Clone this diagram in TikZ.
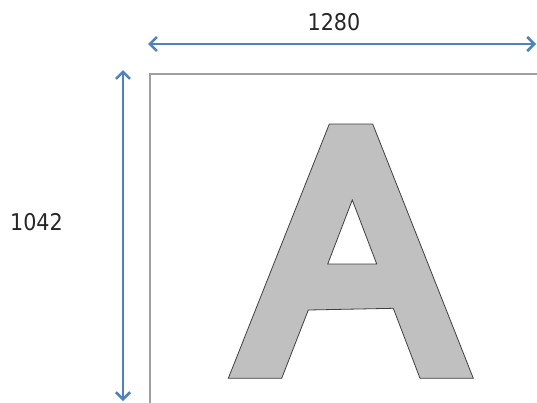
\documentclass[tikz,border=0pt]{standalone}
\usepackage{fontspec}
\setmainfont{DejaVu Sans Condensed}
\usetikzlibrary{arrows.meta}
\definecolor{dimblue}{HTML}{4F81BD}
\definecolor{lettergray}{HTML}{C0C0C0}
\definecolor{framegray}{HTML}{A0A0A0}
\tikzset{
  dimarrow/.style={draw=dimblue, line width=2.8pt, {Straight Barb[length=7pt,width=14pt,line width=2.6pt]}-{Straight Barb[length=7pt,width=14pt,line width=2.6pt]}},
  dimlabel/.style={font=\fontsize{23}{26}\selectfont, text=black!85, inner sep=0pt},
  frame/.style={draw=framegray, line width=1.3pt},
  letter/.style={draw=black!75, line width=0.8pt, fill=lettergray, even odd rule}
}
\begin{document}
\begin{tikzpicture}[x=1pt,y=-1pt]
\useasboundingbox (0,0) rectangle (537,402);
\clip (0,0) rectangle (537,402);
% frame (image area)
\draw[frame] (150,420) -- (150,74) -- (560,74);
% letter A
\path[letter] (329.3,124) -- (372.7,124) -- (473.3,378.3) -- (420,378.3) -- (393.3,308.3)
  -- (308.3,310) -- (281.7,378.3) -- (228.3,378.3) -- cycle
  (352.3,200) -- (376.7,264) -- (327.7,264) -- cycle;
% dimension arrows
\coordinate (hl) at (148,44);
\coordinate (hr) at (536,44);
\coordinate (vt) at (123,70);
\coordinate (vb) at (123,401);
\draw[dimarrow] (hl) -- (hr);
\draw[dimarrow] (vt) -- (vb);
\node[dimlabel] (w) at (334,22) {1280};
\node[dimlabel] (h) at (36.5,222.5) {1042};
\end{tikzpicture}
\end{document}
